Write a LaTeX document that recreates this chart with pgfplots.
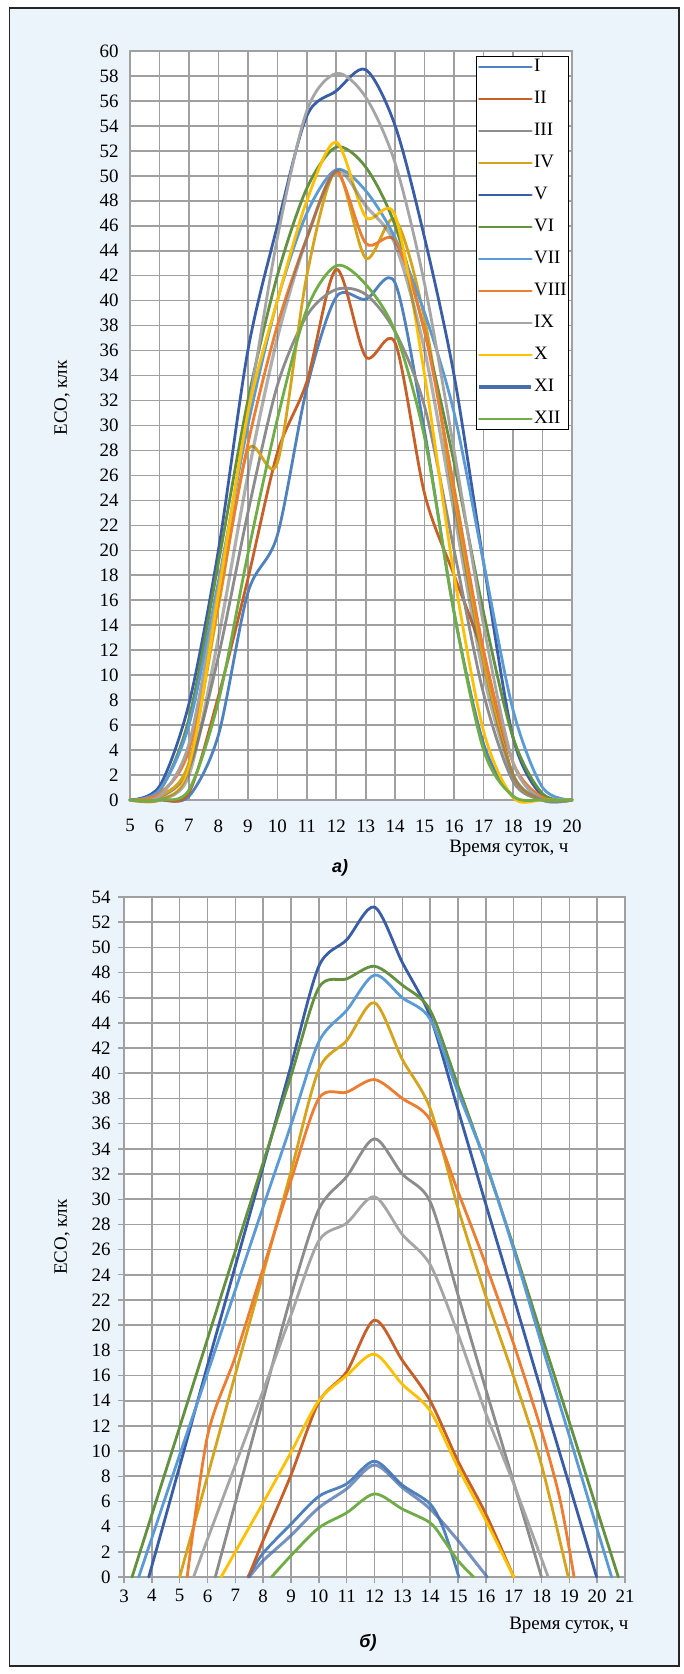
\documentclass[border=0pt]{standalone}
\usepackage{fontspec}
\setmainfont{Liberation Serif}
\newfontfamily\capfont{Liberation Sans}
\usepackage{pgfplots}
\usepackage{pgfplotstable}
\pgfplotsset{compat=1.18}
\definecolor{cI}{HTML}{4E81BD}
\definecolor{cII}{HTML}{C65F28}
\definecolor{cIII}{HTML}{8C8C8C}
\definecolor{cIV}{HTML}{D6A31C}
\definecolor{cV}{HTML}{3A5DA8}
\definecolor{cVI}{HTML}{64913F}
\definecolor{cVII}{HTML}{5B9BD5}
\definecolor{cVIII}{HTML}{ED7D31}
\definecolor{cIX}{HTML}{A5A5A5}
\definecolor{cX}{HTML}{FFC000}
\definecolor{cXI}{HTML}{4A6EAA}
\definecolor{cXIg}{HTML}{6E6E6E}
\definecolor{cXII}{HTML}{70AD47}
\definecolor{bgblue}{HTML}{EBF3FB}
\definecolor{gridgray}{HTML}{A0A0A0}

\pgfplotstableread{
h I II III IV V VI VII VIII IX X XI XII
5 0 0 0 0 0 0 0 0 0 0 0 0
6 0 0 0.2 0.3 1.1 0.7 0.8 0.5 0.3 0 0 0
7 0.3 0.6 2.5 3 7.7 6.5 6 4 4.5 2.5 2 0.8
8 5.2 8.3 11.5 15.5 20 19 17.5 16 17 16.5 13 7.9
9 16.6 17.7 23 28 36 32 30 28.5 31 31 26 19.7
10 21.2 27.8 33.2 27 46 42 40 38 45 40 37 30.5
11 33 33.5 38.8 42 54.8 49 47 45 55.2 48 45 39.3
12 40.3 42.5 40.9 50.4 56.8 52.3 50.5 50.3 58.2 52.7 50.4 42.8
13 40.1 35.5 40.5 43.4 58.5 50.7 48.8 44.6 56.3 46.7 47.6 41.3
14 41.4 36.6 37.5 46.5 54 46 45 44.8 51 46.8 44.5 37.5
15 29.5 24.5 31.5 38.5 45 37.5 39 37.5 41.3 34 36 29
16 15 18 20 24 34 27 31 25 28 18 23 15
17 4.5 11.5 8.5 11 19 15 19 12 14 5.5 10 4
18 0.3 2 1.5 2 5 5 7.2 3 3 0.2 2 0.3
19 0 0 0 0 0.3 0.5 1 0.2 0 0 0 0
20 0 0 0 0 0 0 0 0 0 0 0 0
}\topdata

\pgfplotsset{
  crv/.style={smooth, tension=0.5, line width=2.8bp, line cap=round, line join=round},
  ticklab/.style={font=\fontsize{19}{19}\selectfont},
}

\begin{document}
\begin{tikzpicture}
\fill[white] (0bp,0bp) rectangle (684bp,1674bp);
\draw[line width=1.2bp, draw=black!85, fill=bgblue] (9.5bp,8bp) rectangle (679bp,1666bp);

% ---------- top chart (a) ----------
\begin{axis}[
  at={(130bp,874bp)}, anchor=south west, scale only axis,
  width=442bp, height=749bp,
  xmin=5, xmax=20, ymin=0, ymax=60,
  xtick={5,...,20}, ytick={0,2,...,60},
  grid=major, grid style={gridgray, line width=1.6bp},
  axis line style={gridgray, line width=1.6bp},
  major tick length=0pt,
  axis background/.style={fill=white},
  clip=false,
  tick label style={ticklab},
  /pgf/number format/assume math mode=true,
  xticklabel style={yshift=-16bp},
  yticklabel style={xshift=-8bp},
  legend style={at={(0.7828,0.9933)}, anchor=north west, draw=black, line width=1.1bp,
    fill=white, font=\fontsize{19}{19}\selectfont, inner xsep=1bp, inner ysep=2bp,
    row sep=15bp, cells={anchor=west},
    nodes={inner sep=1bp, text height=12bp, text depth=3bp}},
  legend image code/.code={\draw[#1] (2bp,0bp) -- (54bp,0bp);},
]
\addplot[crv, cI] table[x=h, y=I] {\topdata}; \addlegendentry{I}
\addplot[crv, cII] table[x=h, y=II] {\topdata}; \addlegendentry{II}
\addplot[crv, cIII] table[x=h, y=III] {\topdata}; \addlegendentry{III}
\addplot[crv, cIV] table[x=h, y=IV] {\topdata}; \addlegendentry{IV}
\addplot[crv, cV] table[x=h, y=V] {\topdata}; \addlegendentry{V}
\addplot[crv, cVI] table[x=h, y=VI] {\topdata}; \addlegendentry{VI}
\addplot[crv, cVII] table[x=h, y=VII] {\topdata}; \addlegendentry{VII}
\addplot[crv, cVIII] table[x=h, y=VIII] {\topdata}; \addlegendentry{VIII}
\addplot[crv, cIX] table[x=h, y=IX] {\topdata}; \addlegendentry{IX}
\addplot[crv, cX] table[x=h, y=X] {\topdata}; \addlegendentry{X}
\addlegendimage{line width=3.6bp, cXI}\addlegendentry{XI}
\addplot[crv, cXIg, line width=3.2bp, opacity=0.55, forget plot] table[x=h, y=XI] {\topdata};
\addplot[crv, cXII] table[x=h, y=XII] {\topdata}; \addlegendentry{XII}
\end{axis}

\node[anchor=east, font=\fontsize{19}{19}\selectfont] at (572bp,826bp) {Время суток, ч};
\node[font=\capfont\fontsize{18}{18}\selectfont\bfseries\itshape] at (340bp,806bp) {а)};
\node[rotate=90, font=\fontsize{19}{19}\selectfont] at (62bp,1276bp) {ЕСО, клк};

% ---------- bottom chart (b) ----------
\begin{axis}[
  at={(124bp,97bp)}, anchor=south west, scale only axis,
  width=501bp, height=680bp,
  xmin=3, xmax=21, ymin=0, ymax=54,
  xtick={3,...,21}, ytick={0,2,...,54},
  grid=major, grid style={gridgray, line width=1.6bp},
  axis line style={gridgray, line width=1.6bp},
  tick align=outside, major tick length=6bp,
  tick style={gridgray, line width=1.4bp},
  xtick pos=bottom, ytick pos=left,
  axis background/.style={fill=white},
  clip=false,
  tick label style={ticklab},
  /pgf/number format/assume math mode=true,
  xticklabel style={yshift=-3bp},
  yticklabel style={xshift=-4bp},
]
\addplot[crv, cI] coordinates {(7.45,0) (8,1.9) (9,4.2) (10,6.4) (11,7.4) (12,9.2) (13,7.3) (14,5.8) (14.5,3.7) (15.03,0)};
\addplot[crv, cII] coordinates {(7.47,0) (8,2.9) (9,8.1) (10,13.9) (11,16.3) (12,20.4) (13,17.2) (14,14) (15,9.2) (16,5) (17,0)};
\addplot[crv, cIII] coordinates {(6.28,0) (7,5.9) (8,14.1) (9,22.3) (10,29.2) (11,31.8) (12,34.8) (13,32) (14,29.8) (15,22.4) (16,14.9) (17,7.5) (18,0)};
\addplot[crv, cIV] coordinates {(5,0) (6,8.0) (7,16.1) (8,24.1) (9,32.2) (10,40.3) (11,42.6) (12,45.6) (13,41.1) (14,37.2) (15,29.3) (16,22.3) (17,15.9) (18,8.9) (18.96,0)};
\addplot[crv, cV] coordinates {(3.89,0) (5,8.8) (6,16.8) (7,24.7) (8,32.6) (9,40.6) (10,48.5) (11,50.6) (12,53.2) (13,48.8) (14,44.5) (15,37.1) (16,29.6) (17,22.2) (18,14.7) (19,7.3) (19.98,0)};
\addplot[crv, cVI] coordinates {(3.29,0) (4,4.95) (5,11.9) (6,18.9) (7,25.9) (8,32.9) (9,39.8) (10,46.8) (11,47.5) (12,48.5) (13,47) (14,45) (15,39.0) (16,32.8) (17,26.2) (18,19.2) (19,12.3) (20,5.3) (20.76,0)};
\addplot[crv, cVII] coordinates {(3.53,0) (4,3.1) (5,9.7) (6,16.2) (7,22.8) (8,29.4) (9,35.9) (10,42.5) (11,45) (12,47.8) (13,46) (14,44.3) (15,38.5) (16,32.9) (17,26.0) (18,18.5) (19,11.2) (20,3.8) (20.52,0)};
\addplot[crv, cVIII] coordinates {(5.27,0) (6,11.2) (7,17.5) (8,24.5) (9,31.5) (10,38) (11,38.5) (12,39.5) (13,38) (14,36.3) (15,30.6) (16,24.8) (17,18.5) (18,11.6) (18.67,6.1) (19.17,0)};
\addplot[crv, cIX] coordinates {(5.5,0) (6,3.0) (7,8.9) (8,14.8) (9,20.8) (10,26.7) (11,28.1) (12,30.2) (13,27.2) (14,24.8) (15,19.3) (16,13) (17,7.4) (18.24,0)};
\addplot[crv, cX] coordinates {(6.49,0) (7,2.0) (8,5.9) (9,9.9) (10,14.0) (11,16.0) (12,17.7) (13,15.3) (14,13.2) (15,8.7) (16,4.5) (17,0)};
\addplot[crv, cXI, opacity=0.75, line width=3bp] coordinates {(7.5,0) (8,1.3) (9,3.3) (10,5.5) (11,7.0) (12,8.9) (13,7.1) (14,5.4) (15,2.9) (16.05,0)};
\addplot[crv, cXII] coordinates {(8.3,0) (9,1.7) (10,3.9) (11,5.1) (12,6.6) (13,5.4) (14,4.3) (14.5,2.9) (15,1.3) (15.56,0)};
\end{axis}

\node[anchor=east, font=\fontsize{19}{19}\selectfont] at (632bp,49bp) {Время суток, ч};
\node[font=\capfont\fontsize{18}{18}\selectfont\bfseries\itshape] at (368bp,31bp) {б)};
\node[rotate=90, font=\fontsize{19}{19}\selectfont] at (62bp,437bp) {ЕСО, клк};
\end{tikzpicture}
\end{document}
